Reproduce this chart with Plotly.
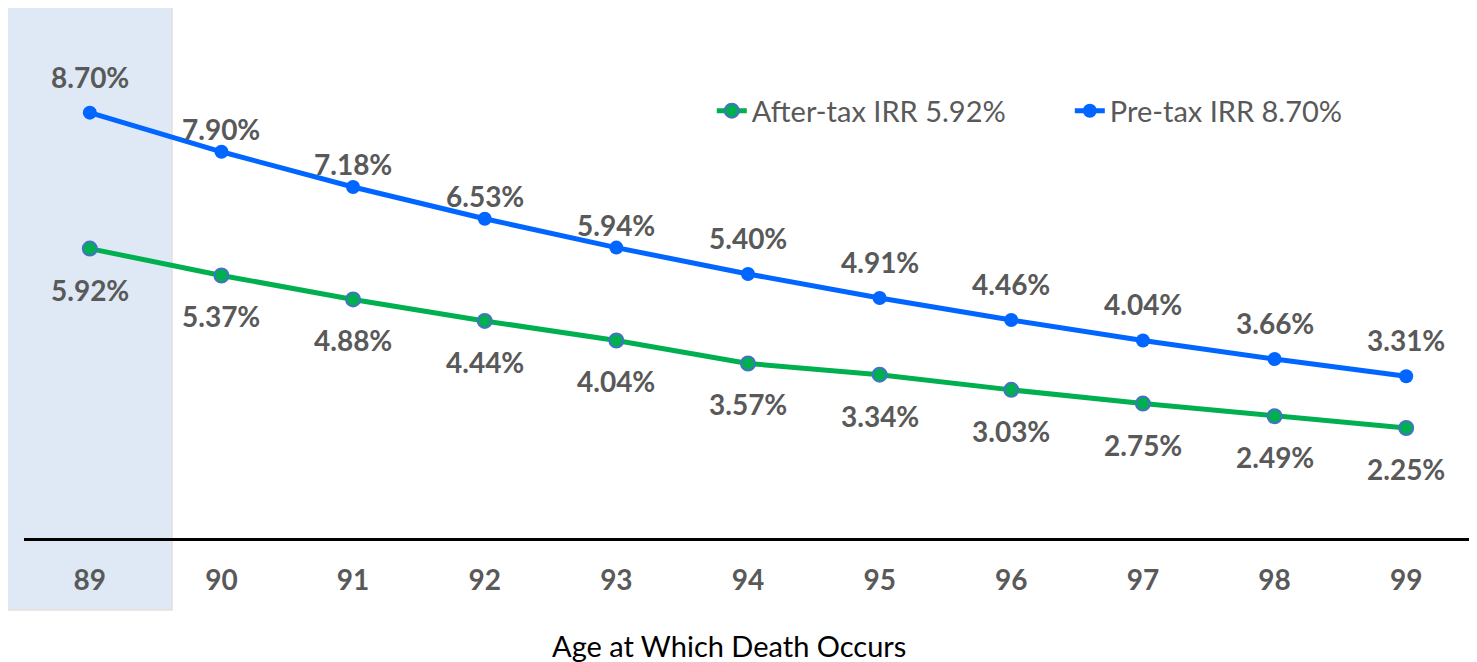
import plotly.graph_objects as go

# ---- data ----
ages = [89, 90, 91, 92, 93, 94, 95, 96, 97, 98, 99]
pre_tax_irr = [8.70, 7.90, 7.18, 6.53, 5.94, 5.40, 4.91, 4.46, 4.04, 3.66, 3.31]
after_tax_irr = [5.92, 5.37, 4.88, 4.44, 4.04, 3.57, 3.34, 3.03, 2.75, 2.49, 2.25]
after_tax_name = "After-tax IRR 5.92%"
pre_tax_name = "Pre-tax IRR 8.70%"
x_title = "Age at Which Death Occurs"

# ---- styles ----
BLUE = "#0066FF"
GREEN = "#00B050"
LABEL_GRAY = "#595959"
FONT = "Lato"
LABEL_SIZE = 28

fig = go.Figure()

fig.add_trace(go.Scatter(
    x=ages, y=after_tax_irr, name=after_tax_name, mode="lines+markers",
    line=dict(color=GREEN, width=5),
    marker=dict(color=GREEN, size=14, line=dict(color="#4472C4", width=2)),
))
fig.add_trace(go.Scatter(
    x=ages, y=pre_tax_irr, name=pre_tax_name, mode="lines+markers",
    line=dict(color=BLUE, width=5),
    marker=dict(color=BLUE, size=14, line=dict(color=BLUE, width=0)),
))

annotations = []
for a, v in zip(ages, pre_tax_irr):
    shift = 23 if 90 <= a <= 93 else 36
    annotations.append(dict(x=a, y=v, text=f"{v:.2f}%", showarrow=False,
                            yshift=shift, font=dict(family=FONT, size=LABEL_SIZE,
                                                    color=LABEL_GRAY, weight=700)))
for a, v in zip(ages, after_tax_irr):
    annotations.append(dict(x=a, y=v, text=f"{v:.2f}%", showarrow=False,
                            yshift=-41, font=dict(family=FONT, size=LABEL_SIZE,
                                                  color=LABEL_GRAY, weight=700)))
# x-axis title (placed as annotation to match the reference's offset)
annotations.append(dict(text=x_title, xref="paper", yref="paper", x=0.487, y=-0.2027,
                        xanchor="center", yanchor="middle", showarrow=False,
                        font=dict(family=FONT, size=29, color="black")))

# highlight band behind the first age (paper coords so it is not clipped)
fig.add_shape(type="rect", xref="paper", yref="paper", x0=-0.0127, x1=0.1021,
              y0=-0.136, y1=1.05, fillcolor="#DEE9F5",
              line=dict(color="#E2E2E2", width=2), layer="below")

fig.update_layout(
    width=1469, height=654,
    margin=dict(l=16, r=5, t=2, b=124, autoexpand=False),
    paper_bgcolor="white", plot_bgcolor="rgba(0,0,0,0)",
    annotations=annotations,
    showlegend=True,
    legend=dict(orientation="h", x=0.475, y=0.809, xanchor="left", yanchor="middle",
                font=dict(family=FONT, size=29, color=LABEL_GRAY),
                bgcolor="rgba(0,0,0,0)", entrywidth=313, entrywidthmode="pixels"),
    xaxis=dict(range=[88.5, 99.5], tickvals=ages, ticktext=[str(a) for a in ages],
               showgrid=False, zeroline=False, showline=True, linecolor="black",
               linewidth=3, ticks="outside", ticklen=15, tickcolor="rgba(0,0,0,0)",
               tickfont=dict(family=FONT, size=LABEL_SIZE, color=LABEL_GRAY, weight=700)),
    yaxis=dict(range=[0, 10.8], showgrid=False, zeroline=False, showline=False,
               showticklabels=False, ticks=""),
)

fig.write_html("out.html")
